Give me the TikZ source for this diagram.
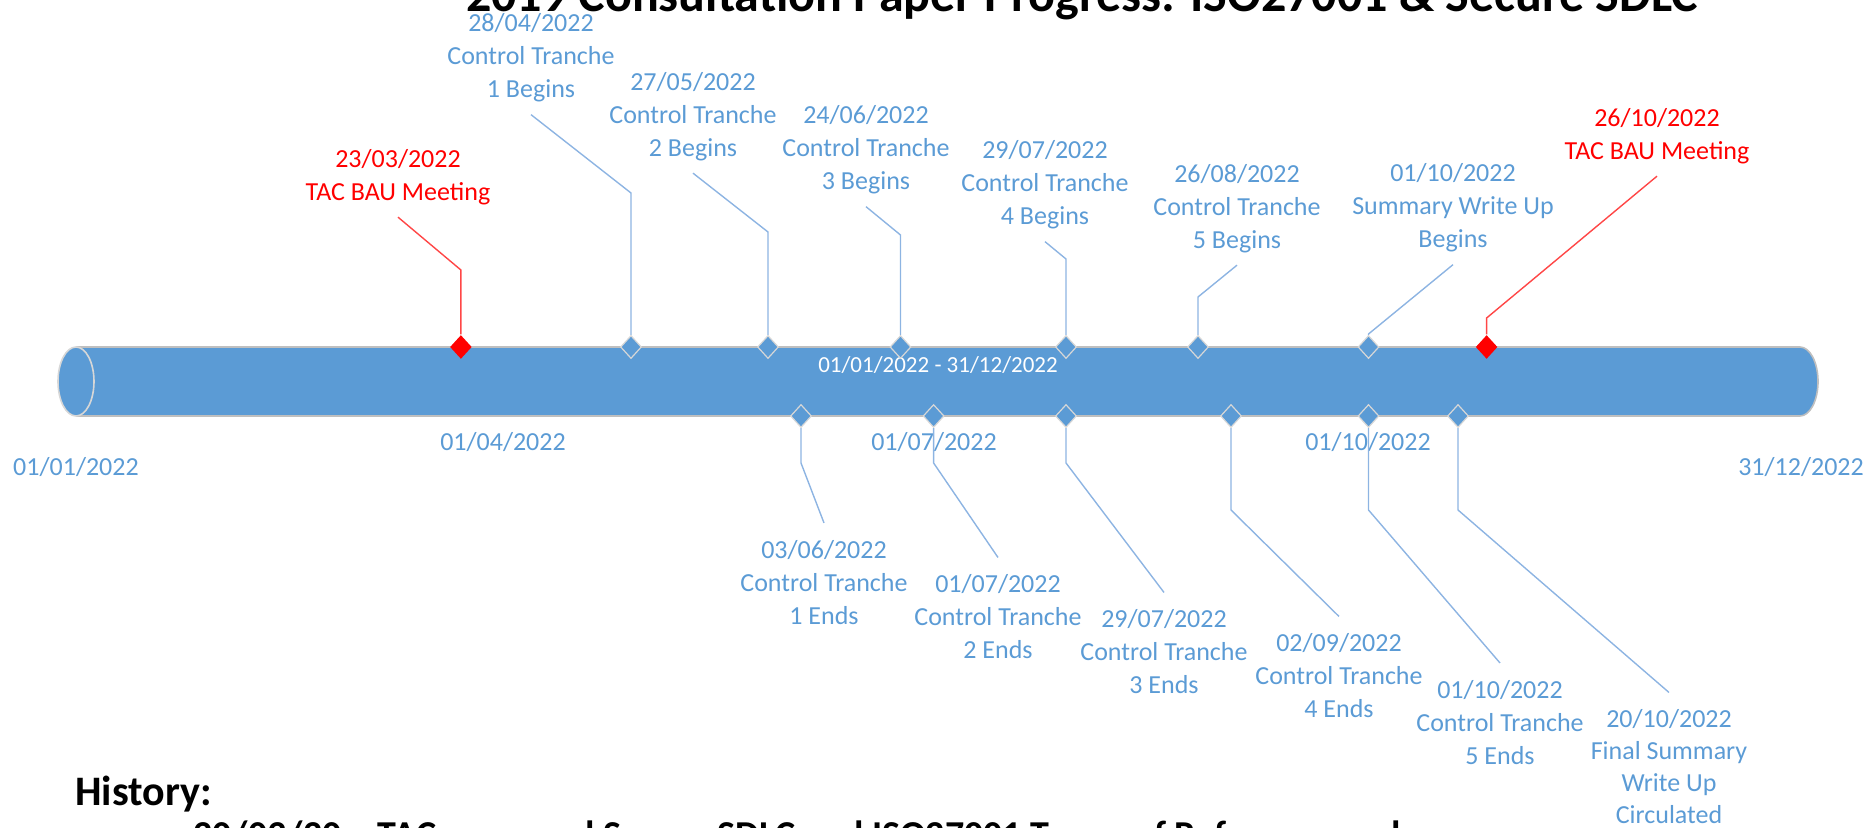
\documentclass[tikz,border=0pt]{standalone}
\usepackage{fontspec}
\setmainfont{Carlito}
\usetikzlibrary{shapes.geometric}
\definecolor{tlblue}{RGB}{91,155,213}
\definecolor{tlline}{RGB}{141,180,226}
\definecolor{tlred}{RGB}{255,0,0}
\definecolor{tlredline}{RGB}{255,70,70}
\definecolor{tlrim}{RGB}{191,191,191}
\definecolor{tlfacerim}{RGB}{215,215,215}
\begin{document}
\begin{tikzpicture}[x=0.5pt,y=-0.5pt,
  lbl/.style={text=tlblue, align=center, font=\fontsize{13}{16.5}\selectfont},
  toplbl/.style={lbl, inner sep=6pt},
  botlbl/.style={lbl, inner sep=8.5pt},
  redlbl/.style={toplbl, text=tlred},
  axislbl/.style={text=tlblue, inner sep=0pt, font=\fontsize{13}{16.5}\selectfont},
  ms/.style={shape=diamond, inner sep=0pt, minimum width=10.5pt, minimum height=11.5pt,
             fill=tlblue, draw=tlfacerim, line width=0.6pt},
  msred/.style={ms, fill=tlred, draw=none, minimum width=11pt, minimum height=12pt},
  conn/.style={draw=tlline, line width=0.7pt},
  connred/.style={draw=tlredline, line width=0.7pt},
]
\useasboundingbox (0,0) rectangle (1863,828);
\clip (0,0) rectangle (1863,828);

% timeline cylinder
\path[fill=tlblue] (76,347) -- (1800,347)
  arc[start angle=90,end angle=-90,x radius=9pt,y radius=17.25pt] -- (76,416)
  arc[start angle=270,end angle=90,x radius=9pt,y radius=17.25pt] -- cycle;
\draw[tlrim, line width=0.8pt] (76,347) -- (1800,347)
  arc[start angle=90,end angle=-90,x radius=9pt,y radius=17.25pt] -- (76,416);
\draw[tlfacerim, line width=0.8pt] (76,381.5) ellipse[x radius=9pt, y radius=17.25pt];
\node[text=white, inner sep=0pt, font=\fontsize{11.5}{14}\selectfont] (span) at (938,365) {01/01/2022 - 31/12/2022};

% axis dates
\node[axislbl] (a1) at (76,467) {01/01/2022};
\node[axislbl] (a2) at (503,442) {01/04/2022};
\node[axislbl] (a3) at (934,442) {01/07/2022};
\node[axislbl] (a4) at (1368,442) {01/10/2022};
\node[axislbl] (a5) at (1801,467) {31/12/2022};

% milestones above the bar
\node[msred] (t1) at (460.9,347) {};
\node[ms] (t2) at (631,347) {};
\node[ms] (t3) at (768,347) {};
\node[ms] (t4) at (900.5,347) {};
\node[ms] (t5) at (1066,347) {};
\node[ms] (t6) at (1198,347) {};
\node[ms] (t7) at (1368.5,347) {};
\node[msred] (t8) at (1486.6,347) {};

% milestones below the bar
\node[ms] (b1) at (801,416) {};
\node[ms] (b2) at (933.6,416) {};
\node[ms] (b3) at (1066,416) {};
\node[ms] (b4) at (1231,416) {};
\node[ms] (b5) at (1368.5,416) {};
\node[ms] (b6) at (1458,416) {};

% labels above
\node[redlbl] (lt1) at (398,177) {23/03/2022\\TAC BAU Meeting};
\node[toplbl] (lt2) at (531,58) {28/04/2022\\Control Tranche\\1 Begins};
\node[toplbl] (lt3) at (693,116.5) {27/05/2022\\Control Tranche\\2 Begins};
\node[toplbl] (lt4) at (866,150) {24/06/2022\\Control Tranche\\3 Begins};
\node[toplbl] (lt5) at (1045,185) {29/07/2022\\Control Tranche\\4 Begins};
\node[toplbl] (lt6) at (1237,208.5) {26/08/2022\\Control Tranche\\5 Begins};
\node[toplbl] (lt7) at (1453,208) {01/10/2022\\Summary Write Up\\Begins};
\node[redlbl] (lt8) at (1657,136) {26/10/2022\\TAC BAU Meeting};

% labels below
\node[botlbl] (lb1) at (824,582.5) {03/06/2022\\Control Tranche\\1 Ends};
\node[botlbl] (lb2) at (998,617) {01/07/2022\\Control Tranche\\2 Ends};
\node[botlbl] (lb3) at (1164,652) {29/07/2022\\Control Tranche\\3 Ends};
\node[botlbl] (lb4) at (1339,676) {02/09/2022\\Control Tranche\\4 Ends};
\node[botlbl] (lb5) at (1500,722.5) {01/10/2022\\Control Tranche\\5 Ends};
\node[botlbl, font=\fontsize{13}{16}\selectfont] (lb6) at (1669,767) {20/10/2022\\Final Summary\\Write Up\\Circulated};

% leader lines
\draw[connred] (t1) -- ++(0,-77) -- (lt1.south);
\draw[conn] (t2) -- ++(0,-154) -- (lt2.south);
\draw[conn] (t3) -- ++(0,-115) -- (lt3.south);
\draw[conn] (t4) -- ++(0,-112) -- (lt4.south);
\draw[conn] (t5) -- ++(0,-88) -- (lt5.south);
\draw[conn] (t6) -- ++(0,-50) -- (lt6.south);
\draw[conn] (t7) -- ++(0,-13) -- (lt7.south);
\draw[connred] (t8) -- ++(0,-29) -- (lt8.south);

\draw[conn] (b1) -- ++(0,47) -- (lb1.north);
\draw[conn] (b2) -- ++(0,47) -- (lb2.north);
\draw[conn] (b3) -- ++(0,47) -- (lb3.north);
\draw[conn] (b4) -- ++(0,94) -- (lb4.north);
\draw[conn] (b5) -- ++(0,94) -- (lb5.north);
\draw[conn] (b6) -- ++(0,94) -- (lb6.north);

% heading and history notes
\node[anchor=base, inner sep=0pt, font=\fontsize{25}{30}\selectfont\bfseries] (title) at (1082,12)
  {2019 Consultation Paper Progress: ISO27001 \& Secure SDLC};
\node[anchor=base west, inner sep=0pt, font=\fontsize{21}{25}\selectfont\bfseries] (hist) at (75,805) {History:};
\node[anchor=base west, inner sep=0pt, font=\fontsize{19}{23}\selectfont\bfseries] (hist1) at (193,847)
  {20/03/20 – TAC approved Secure SDLC and ISO27001 Terms of Reference and};
\end{tikzpicture}
\end{document}
